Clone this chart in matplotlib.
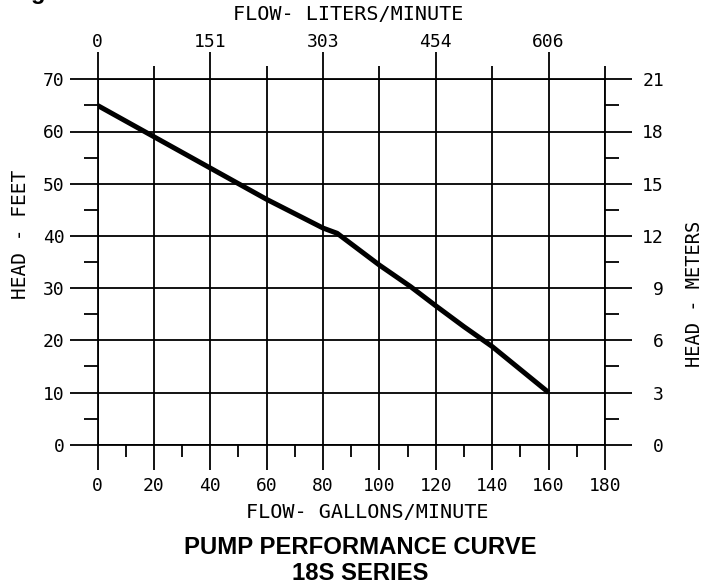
import matplotlib
matplotlib.use("Agg")
import matplotlib.pyplot as plt
import numpy as np

# pump curve
flow_gpm = [0, 20, 40, 60, 80, 85, 100, 111, 120, 130, 140, 160]
head_ft = [65, 59, 53, 47, 41.5, 40.5, 34.4, 30.3, 26.6, 22.6, 18.8, 10]

gpm_ticks = [0, 20, 40, 60, 80, 100, 120, 140, 160, 180]
gpm_minor = [10, 30, 50, 70, 90, 110, 130, 150, 170]
ft_ticks = [0, 10, 20, 30, 40, 50, 60, 70]
ft_minor = [5, 15, 25, 35, 45, 55, 65]
lpm_pos = [0, 40, 80, 120, 160]
lpm_labels = ["0", "151", "303", "454", "606"]
lpm_minor = [20, 60, 100, 140, 180]
m_labels = ["0", "3", "6", "9", "12", "15", "18", "21"]

W, H = 704, 584
mono = "DejaVu Sans Mono"
LW = 1.3


def fx(px):
    return px / W


def fy(py):
    return 1 - py / H


fig = plt.figure(figsize=(W / 100, H / 100), dpi=100)
ax = fig.add_axes([fx(97.5), fy(444.7), 507.5 / W, 365.4 / H])
ax.set_xlim(0, 180)
ax.set_ylim(0, 70)

for s in ax.spines.values():
    s.set_linewidth(LW)
    s.set_color("black")

ax.set_xticks(gpm_ticks)
ax.set_xticks(gpm_minor, minor=True)
ax.set_yticks(ft_ticks)
ax.set_yticks(ft_minor, minor=True)
ax.tick_params(axis="x", which="major", length=18, width=LW, pad=5,
               labelsize=13, direction="out")
ax.tick_params(axis="x", which="minor", length=8.6, width=LW, direction="out")
ax.tick_params(axis="y", which="major", length=20.5, width=LW, pad=3,
               labelsize=13, direction="out")
ax.tick_params(axis="y", which="minor", length=10, width=LW, direction="out")
for lab in ax.get_xticklabels() + ax.get_yticklabels():
    lab.set_family(mono)
ax.grid(True, which="major", color="black", linewidth=LW)

# top axis in liters/minute
axt = ax.twiny()
axt.set_xlim(ax.get_xlim())
axt.set_xticks(lpm_pos, labels=lpm_labels)
axt.set_xticks(lpm_minor, minor=True)
axt.tick_params(axis="x", which="major", length=19.4, width=LW, pad=1,
                labelsize=13)
axt.tick_params(axis="x", which="minor", length=9.4, width=LW)
for lab in axt.get_xticklabels():
    lab.set_family(mono)

# right axis in meters
axr = ax.twinx()
axr.set_ylim(ax.get_ylim())
axr.set_yticks(ft_ticks, labels=m_labels)
axr.set_yticks(ft_minor, minor=True)
axr.tick_params(axis="y", which="major", length=19.4, width=LW, pad=23,
                labelsize=13)
axr.tick_params(axis="y", which="minor", length=10, width=LW)
for lab in axr.get_yticklabels():
    lab.set_family(mono)
    lab.set_horizontalalignment("right")
for a in (axt, axr):
    for s in a.spines.values():
        s.set_visible(False)

ax.plot(flow_gpm, head_ft, color="black", linewidth=3.6,
        solid_joinstyle="round", solid_capstyle="butt", zorder=5)

fig.text(fx(367), fy(512), "FLOW- GALLONS/MINUTE", family=mono, fontsize=14.5,
         ha="center", va="center")
fig.text(fx(348), fy(15), "FLOW- LITERS/MINUTE", family=mono, fontsize=14.5,
         ha="center", va="center")
fig.text(fx(21), fy(234), "HEAD - FEET", family=mono, fontsize=14,
         rotation=90, ha="center", va="center")
fig.text(fx(695), fy(294), "HEAD - METERS", family=mono, fontsize=13.5,
         rotation=90, ha="center", va="center")

fig.text(fx(360), fy(548), "PUMP PERFORMANCE CURVE", family="Liberation Sans",
         weight="bold", fontsize=17.2, ha="center", va="center")
fig.text(fx(360), fy(573), "18S SERIES", family="Liberation Sans",
         weight="bold", fontsize=17.2, ha="center", va="center")
# clipped heading letter at the top-left edge
fig.text(fx(38), fy(-0.5), "g", family="Liberation Sans", weight="bold",
         fontsize=17, ha="center", va="baseline")

fig.savefig("out.png", dpi=100, facecolor="white")
